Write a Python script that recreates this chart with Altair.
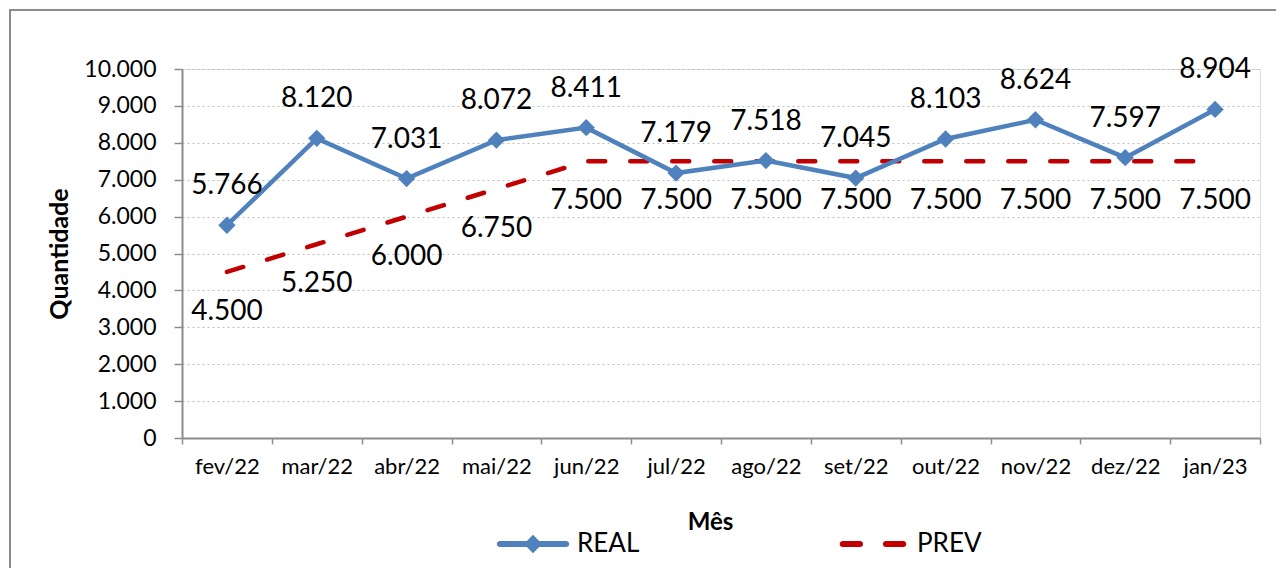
import altair as alt
import pandas as pd

meses = ["fev/22", "mar/22", "abr/22", "mai/22", "jun/22", "jul/22",
         "ago/22", "set/22", "out/22", "nov/22", "dez/22", "jan/23"]
real = [5766, 8120, 7031, 8072, 8411, 7179, 7518, 7045, 8103, 8624, 7597, 8904]
prev = [4500, 5250, 6000, 6750, 7500, 7500, 7500, 7500, 7500, 7500, 7500, 7500]
series = ["REAL", "PREV"]
colors = ["#4F81BD", "#C00000"]
y_ticks = list(range(0, 10001, 1000))

df_real = pd.DataFrame({"mes": meses, "valor": real})
df_prev = pd.DataFrame({"mes": meses, "valor": prev})
df_leg = pd.DataFrame({"serie": series})
df_box = pd.DataFrame({"k": [0]})

FONT = "Lato"
W, H = 1078, 369

xenc = alt.X("mes:N", sort=meses,
             scale=alt.Scale(type="band", paddingInner=0, paddingOuter=0),
             axis=alt.Axis(title="Mês", labelAngle=0, tickBand="extent",
                           labelFont=FONT, labelFontSize=22, labelColor="#000000",
                           labelPadding=12, tickSize=6, tickColor="#8C8C8C",
                           tickWidth=1.5, domainColor="#8C8C8C", domainWidth=2,
                           grid=False, titleFont=FONT, titleFontSize=24,
                           titleFontWeight="bold", titleColor="#000000",
                           titleX=528, titleY=84, titleBaseline="middle"))
yenc = alt.Y("valor:Q",
             scale=alt.Scale(domain=[0, 10000], nice=False),
             axis=alt.Axis(title="Quantidade", values=y_ticks, format=",.0f",
                           labelFont=FONT, labelFontSize=23, labelColor="#000000",
                           labelPadding=18, tickSize=8, tickColor="#8C8C8C",
                           tickWidth=1.5, domainColor="#8C8C8C", domainWidth=2,
                           grid=True, gridColor="#BFBFBF", gridDash=[2, 3],
                           gridWidth=1, titleFont=FONT, titleFontSize=25,
                           titleFontWeight="bold", titleColor="#000000",
                           titleX=-123, titleBaseline="middle"))

box = alt.Chart(df_box).mark_rect(fill="transparent", stroke="#8C8C8C",
                                  strokeWidth=2).encode(
    x=alt.value(-172), x2=alt.value(1200), y=alt.value(-59), y2=alt.value(700))

prev_line = alt.Chart(df_prev).mark_line(
    color=colors[1], strokeWidth=4.5, strokeDash=[17, 25], strokeCap="round"
).encode(x=xenc, y=yenc)

real_line = alt.Chart(df_real).mark_line(
    color=colors[0], strokeWidth=4.5
).encode(x=xenc, y=yenc)

real_pts = alt.Chart(df_real).mark_point(
    shape="diamond", filled=True, size=300, color=colors[0], opacity=1
).encode(x=xenc, y=yenc)

real_txt = alt.Chart(df_real).mark_text(
    font=FONT, fontSize=28, color="#000000", baseline="middle", dy=-39
).encode(x=xenc, y=yenc, text=alt.Text("valor:Q", format=",.0f"))

prev_txt = alt.Chart(df_prev).mark_text(
    font=FONT, fontSize=28, color="#000000", baseline="middle", dy=40
).encode(x=xenc, y=yenc, text=alt.Text("valor:Q", format=",.0f"))

real_sym = ("M-0.92,-0.085H0.92A0.085,0.085 0 0 1 0.92,0.085H-0.92"
            "A0.085,0.085 0 0 1 -0.92,-0.085Z "
            "M0,-0.26L0.25,0L0,0.26L-0.25,0Z")
prev_sym = ("M-0.84,-0.085H-0.36A0.085,0.085 0 0 1 -0.36,0.085H-0.84"
            "A0.085,0.085 0 0 1 -0.84,-0.085Z "
            "M0.36,-0.085H0.84A0.085,0.085 0 0 1 0.84,0.085H0.36"
            "A0.085,0.085 0 0 1 0.36,-0.085Z")

leg = alt.Legend(title=None, orient="none", legendX=315, legendY=439,
                 direction="horizontal", symbolSize=5184, symbolStrokeWidth=0,
                 labelFont=FONT, labelFontSize=26, labelColor="#000000",
                 labelOffset=8, columnPadding=197, labelLimit=300)

legend_layer = alt.Chart(df_leg).transform_filter("false").mark_point(
    filled=True, opacity=1
).encode(
    color=alt.Color("serie:N", scale=alt.Scale(domain=series, range=colors),
                    legend=leg),
    shape=alt.Shape("serie:N", scale=alt.Scale(domain=series,
                                               range=[real_sym, prev_sym]),
                    legend=leg),
)

chart = alt.layer(box, prev_line, real_line, real_pts, real_txt, prev_txt,
                  legend_layer).properties(
    width=W, height=H,
    padding={"left": 174, "top": 61, "right": 16, "bottom": 130},
    autosize=alt.AutoSizeParams(type="none"),
    background="white",
).configure_view(strokeWidth=0).configure(
    locale={"number": {"decimal": ",", "thousands": ".", "grouping": [3],
                       "currency": ["R$", ""]}}
)

chart.save("out.html", embed_options={"renderer": "svg", "actions": False})
